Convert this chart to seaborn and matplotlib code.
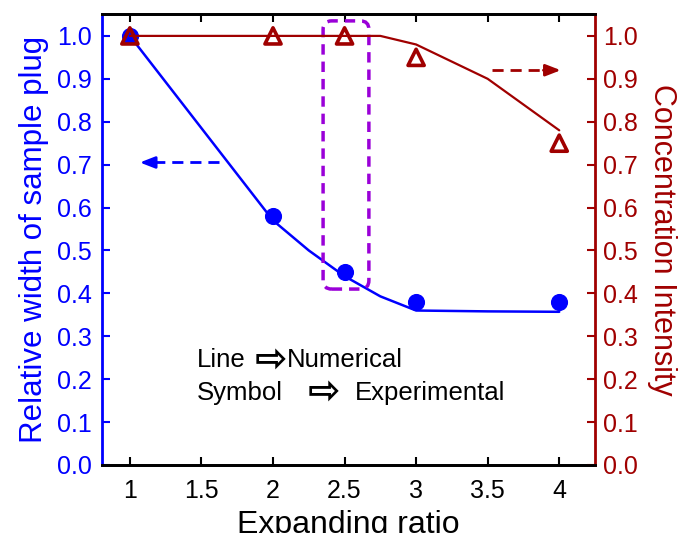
import matplotlib
matplotlib.use("Agg")
import matplotlib.pyplot as plt
import seaborn as sns
import pandas as pd
from matplotlib.patches import FancyBboxPatch

# ---- data ----
ratio_num = [1.0, 2.0, 2.25, 2.5, 2.75, 3.0, 3.5, 4.0]
width_num = [1.0, 0.57, 0.50, 0.44, 0.393, 0.36, 0.358, 0.357]
ratio_conc_num = [1.0, 2.0, 2.5, 2.75, 3.0, 3.5, 4.0]
conc_num = [1.0, 1.0, 1.0, 1.0, 0.98, 0.90, 0.78]
ratio_exp = [1.0, 2.0, 2.5, 3.0, 4.0]
width_exp = [1.0, 0.58, 0.45, 0.38, 0.38]
conc_exp = [1.0, 1.0, 1.0, 0.95, 0.75]
x_ticks = [1, 1.5, 2, 2.5, 3, 3.5, 4]
x_ticklabels = ["1", "1.5", "2", "2.5", "3", "3.5", "4"]
y_ticks = [0.0, 0.1, 0.2, 0.3, 0.4, 0.5, 0.6, 0.7, 0.8, 0.9, 1.0]
y_ticklabels = [f"{v:.1f}" for v in y_ticks]

BLUE = "#0000ff"
RED = "#a00000"
PURPLE = "#9a00d8"

sns.set_style("white")
plt.rcParams["font.family"] = ["Liberation Sans", "DejaVu Sans"]
FAM = ["Liberation Sans", "DejaVu Sans"]

fig = plt.figure(figsize=(6.78, 5.33), dpi=100)
ax = fig.add_axes([0.1504, 0.1276, 0.7272, 0.8461])
ax2 = ax.twinx()

df_wn = pd.DataFrame({"x": ratio_num, "y": width_num})
df_cn = pd.DataFrame({"x": ratio_conc_num, "y": conc_num})
df_we = pd.DataFrame({"x": ratio_exp, "y": width_exp})
df_ce = pd.DataFrame({"x": ratio_exp, "y": conc_exp})

sns.lineplot(data=df_wn, x="x", y="y", ax=ax, color=BLUE, lw=1.8)
sns.scatterplot(data=df_we, x="x", y="y", ax=ax, color=BLUE, s=130,
                edgecolor=BLUE, zorder=5)
sns.lineplot(data=df_cn, x="x", y="y", ax=ax2, color=RED, lw=1.6)
sns.scatterplot(data=df_ce, x="x", y="y", ax=ax2, marker="^", s=135,
                facecolor="none", edgecolor=RED, linewidth=2.6, zorder=5)

for a in (ax, ax2):
    a.set_xlim(0.805, 4.25)
    a.set_ylim(0.0, 1.051)
    a.set_yticks(y_ticks)
    a.set_yticklabels(y_ticklabels)

ax.set_xticks(x_ticks)
ax.set_xticklabels(x_ticklabels)
ax.tick_params(axis="x", direction="in", length=6, width=1.5, colors="black",
               labelsize=18, pad=10, top=True, bottom=True)
ax.tick_params(axis="y", direction="in", length=6, width=1.5, colors=BLUE,
               labelsize=18, pad=7, left=True, right=False)
ax2.tick_params(axis="y", direction="in", length=6, width=1.5, colors=RED,
                labelsize=18, pad=6, right=True, left=False)

ax.set_xlabel("Expanding ratio", fontsize=23, color="black", labelpad=5)
ax.set_ylabel("Relative width of sample plug", fontsize=22.5, color=BLUE, labelpad=6)
ax2.set_ylabel("Concentration Intensity", fontsize=22, color=RED, labelpad=6,
               rotation=270, va="bottom")

for a in (ax, ax2):
    for s in a.spines.values():
        s.set_linewidth(2)
    a.spines["top"].set_color("black")
    a.spines["bottom"].set_color("black")
ax.spines["left"].set_color(BLUE)
ax2.spines["left"].set_visible(False)
ax2.spines["right"].set_color(RED)
ax.spines["right"].set_visible(False)

# purple dashed rounded highlight box
box = FancyBboxPatch((2.35, 0.41), 0.32, 0.625,
                     boxstyle="round,pad=0,rounding_size=0.06",
                     mutation_aspect=0.333, fill=False, edgecolor=PURPLE,
                     lw=2.5, ls=(0, (3, 2)), zorder=6)
ax.add_patch(box)

# direction arrows
ax.plot([1.62, 1.18], [0.705, 0.705], color=BLUE, lw=2, ls=(0, (4, 2.5)))
ax.annotate("", xy=(1.05, 0.705), xytext=(1.19, 0.705),
            arrowprops=dict(arrowstyle="-|>,head_length=0.9,head_width=0.35",
                            color=BLUE, lw=2))
ax2.plot([3.53, 3.88], [0.92, 0.92], color=RED, lw=2, ls=(0, (4, 2.5)))
ax2.annotate("", xy=(4.03, 0.92), xytext=(3.87, 0.92),
             arrowprops=dict(arrowstyle="-|>,head_length=0.9,head_width=0.35",
                             color=RED, lw=2))

# annotation text: words and arrow glyphs
Y1, Y2 = 0.228, 0.152
ax.text(1.47, Y1, "Line", fontsize=18.5, color="black", ha="left", va="baseline", family=FAM)
ax.text(1.985, Y1 - 0.010, "\u21e8", fontsize=28, fontweight="bold", color="black",
        ha="center", va="baseline", family=["DejaVu Sans"])
ax.text(2.10, Y1, "Numerical", fontsize=18.5, color="black", ha="left", va="baseline", family=FAM)
ax.text(1.47, Y2, "Symbol", fontsize=18.5, color="black", ha="left", va="baseline", family=FAM)
ax.text(2.355, Y2 - 0.010, "\u21e8", fontsize=28, fontweight="bold", color="black",
        ha="center", va="baseline", family=["DejaVu Sans"])
ax.text(2.575, Y2, "Experimental", fontsize=18.5, color="black", ha="left", va="baseline", family=FAM)

fig.savefig("out.png", dpi=100)
